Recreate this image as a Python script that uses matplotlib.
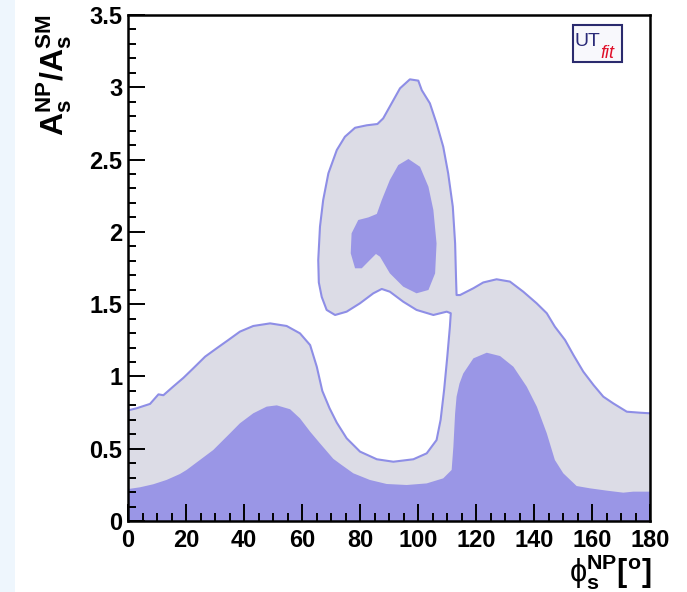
"""UTfit-style contour plot of A_s^NP/A_s^SM versus phi_s^NP."""
import matplotlib
matplotlib.use("Agg")
import matplotlib.pyplot as plt
from matplotlib.patches import Rectangle
from matplotlib.ticker import MultipleLocator

plt.rcParams["font.family"] = ["Liberation Sans", "DejaVu Sans"]
plt.rcParams["mathtext.fontset"] = "custom"
plt.rcParams["mathtext.rm"] = "Liberation Sans"
plt.rcParams["mathtext.bf"] = "Liberation Sans:bold"
plt.rcParams["mathtext.it"] = "Liberation Sans:italic"

LIGHT_FILL = "#dcdce6"
DARK_FILL = "#9a96e6"
EDGE_COLOR = "#8e8ee6"

# 95% region boundary (single curve from left edge to right edge)
outer_x = [0, 3, 7.6, 10.5, 12.2, 15.6, 19.1, 22.5, 26.6, 30.6, 34.6, 38.6, 43.2, 49,
           54.7, 59.3, 62.8, 65.1, 67.0, 69.5, 72, 75.4, 80, 85.8, 91.5, 98.4, 103,
           106.4, 107.8, 109, 110.1, 111, 111.3, 109.9, 105.3, 99.5, 94.9, 90.3, 87.5,
           84.6, 80, 75.4, 71.4, 68.5, 66.8, 65.8, 65.6, 66.2, 67.3, 69.1, 72, 74.8,
           78.3, 82.3, 86, 88, 90.9, 93.8, 97.2, 100.1, 101.3, 104.1, 106.4, 108.7,
           110.4, 112, 112.8, 113.1, 113.3, 114.5, 119.1, 122.5, 127.1, 131.7, 136.3,
           140.9, 144.4, 147.2, 150.7, 153.6, 157, 160.5, 163.9, 167.3, 172, 176.6, 180]
outer_y = [0.765, 0.78, 0.81, 0.876, 0.87, 0.93, 0.99, 1.056, 1.137, 1.195, 1.252, 1.31,
           1.349, 1.367, 1.349, 1.298, 1.217, 1.067, 0.90, 0.78, 0.68, 0.572, 0.48,
           0.427, 0.41, 0.427, 0.468, 0.56, 0.70, 0.906, 1.137, 1.344, 1.437, 1.448,
           1.425, 1.46, 1.517, 1.586, 1.605, 1.575, 1.506, 1.448, 1.425, 1.46, 1.55,
           1.65, 1.805, 2.036, 2.22, 2.405, 2.566, 2.658, 2.72, 2.737, 2.746, 2.785,
           2.889, 2.993, 3.055, 3.046, 2.98, 2.889, 2.75, 2.589, 2.405, 2.174, 1.92,
           1.69, 1.563, 1.563, 1.61, 1.65, 1.672, 1.656, 1.586, 1.506, 1.437, 1.344,
           1.252, 1.148, 1.033, 0.941, 0.86, 0.814, 0.756, 0.749, 0.745]

# 68% region: bottom band top edge
band_x = [0, 4.1, 8.7, 13.3, 17.9, 20.2, 24.8, 29.4, 31.7, 35.2, 38.6, 43.2, 47.8, 51.3,
          55.9, 59.3, 62.8, 66.2, 70.8, 73.5, 77.7, 83.4, 89.2, 96.1, 103, 108.7, 111.6,
          112.2, 112.8, 113.3, 114.3, 115.6, 119.1, 123.7, 128.3, 132.9, 137.5, 141,
          144.4, 147.2, 150.1, 154.7, 159.3, 165.1, 170.8, 174.2, 180]
band_y = [0.221, 0.233, 0.254, 0.284, 0.325, 0.353, 0.422, 0.491, 0.537, 0.607, 0.676,
          0.745, 0.791, 0.80, 0.773, 0.71, 0.618, 0.537, 0.43, 0.39, 0.33, 0.284, 0.256,
          0.249, 0.26, 0.295, 0.353, 0.514, 0.745, 0.86, 0.95, 1.02, 1.125, 1.164,
          1.141, 1.067, 0.929, 0.79, 0.607, 0.422, 0.33, 0.242, 0.226, 0.21, 0.196,
          0.203, 0.203]

# 68% region: upper island
blob_x = [96.7, 100.7, 103.6, 105.3, 106.4, 105.9, 103.6, 99.5, 94.9, 90.3, 86.9, 85.5,
          83.4, 80.6, 78.3, 76.8, 77.1, 79.4, 82.9, 85.8, 87.5, 90.3, 93.2]
blob_y = [2.504, 2.45, 2.312, 2.151, 1.92, 1.713, 1.598, 1.575, 1.621, 1.713, 1.828,
          1.847, 1.805, 1.748, 1.748, 1.852, 1.99, 2.082, 2.1, 2.124, 2.22, 2.359, 2.462]

W, H = 687, 592
fig = plt.figure(figsize=(W / 100, H / 100), dpi=100)
fig.patches.append(Rectangle((0, 0), 15 / W, 1, transform=fig.transFigure,
                             facecolor="#eef6fd", edgecolor="none", zorder=-1))

ax = fig.add_axes([128 / W, 1 - 521 / H, (650 - 128) / W, (521 - 15) / H])

ax.fill(outer_x + [180, 0], outer_y + [0, 0], color=LIGHT_FILL, lw=0, zorder=1)
ax.fill(band_x + [180, 0], band_y + [0, 0], color=DARK_FILL, lw=0, zorder=2)
ax.fill(blob_x, blob_y, color=DARK_FILL, lw=0, zorder=2)
ax.plot(outer_x, outer_y, color=EDGE_COLOR, lw=1.5, zorder=3)

ax.set_xlim(0, 180)
ax.set_ylim(0, 3.5)
ax.xaxis.set_major_locator(MultipleLocator(20))
ax.xaxis.set_minor_locator(MultipleLocator(5))
ax.yaxis.set_minor_locator(MultipleLocator(0.1))
ax.set_yticks([0, 0.5, 1, 1.5, 2, 2.5, 3, 3.5])
ax.set_yticklabels(["0", "0.5", "1", "1.5", "2", "2.5", "3", "3.5"])
ax.tick_params(which="both", direction="in", top=False, right=False, width=1.4,
               color="black", labelsize=17)
ax.tick_params(which="major", length=12)
ax.tick_params(which="minor", length=6)
ax.tick_params(axis="x", pad=6)
ax.tick_params(axis="y", pad=4)
for lab in ax.get_xticklabels() + ax.get_yticklabels():
    lab.set_fontweight("bold")
for sp in ax.spines.values():
    sp.set_linewidth(1.8)
    sp.set_zorder(5)
ax.set_axisbelow(False)

fig.text(74 / W, 1 - 14 / H, r"$\mathbf{A_{s}^{NP}/A_{s}^{SM}}$", rotation=90,
         ha="right", va="top", fontsize=23)
fig.text(652 / W, 1 - 592 / H, r"$\mathrm{\phi}_{\mathbf{s}}^{\mathbf{NP}}\mathbf{[^{o}]}$",
         ha="right", va="bottom", fontsize=22)

# UTfit logo
fig.patches.append(Rectangle((573 / W, 1 - 62 / H), 49 / W, 37 / H, transform=fig.transFigure,
                             facecolor="#f8f8fc", edgecolor="#2b2b6e", lw=1.5, zorder=5))
fig.text(575 / W, 1 - 41 / H, "UT", color="#2a2a78", fontsize=14, ha="left",
         va="center", zorder=6)
fig.text(600 / W, 1 - 54 / H, "fit", color="#e0102a", fontsize=13, style="italic",
         ha="left", va="center", zorder=6)

fig.savefig("out.png", dpi=100)
